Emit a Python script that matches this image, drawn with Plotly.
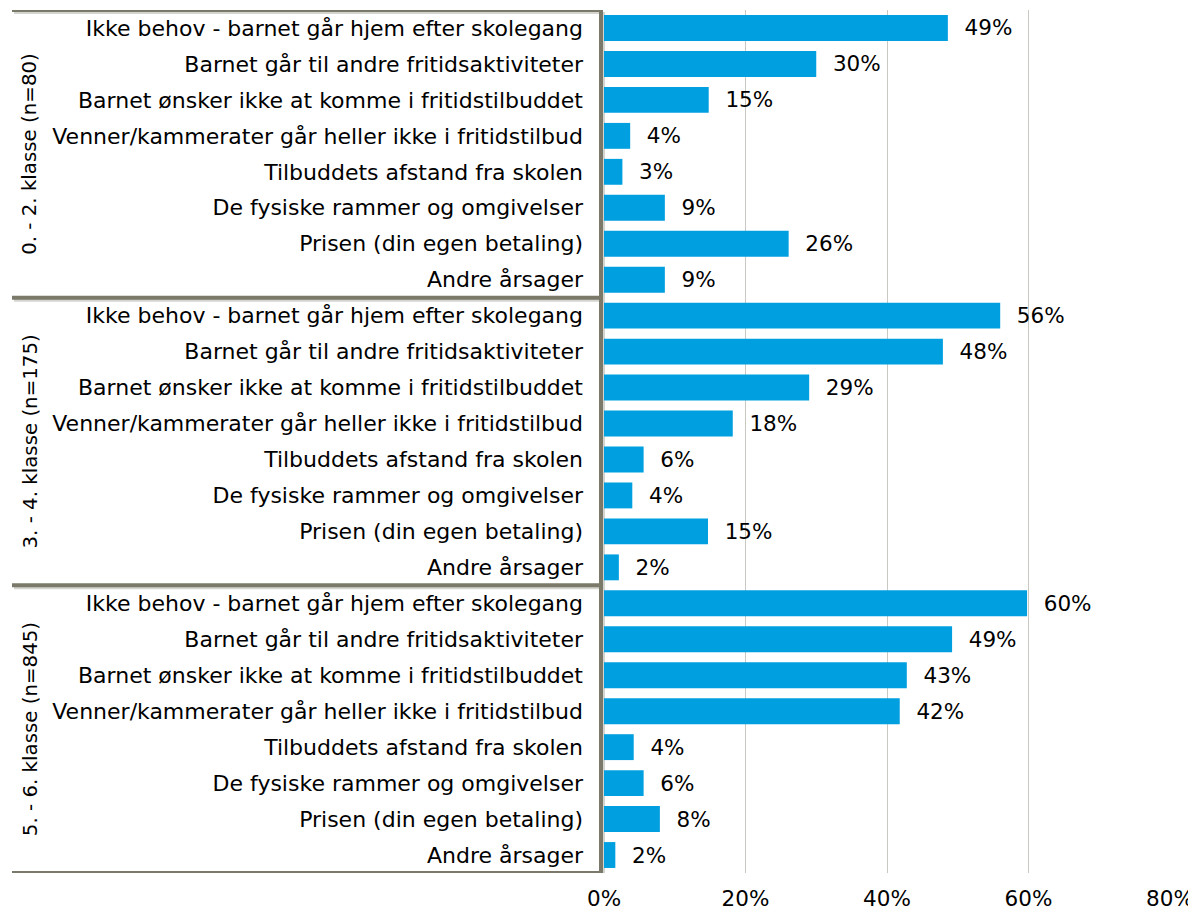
import plotly.graph_objects as go

groups = ["0. - 2. klasse (n=80)", "3. - 4. klasse (n=175)", "5. - 6. klasse (n=845)"]
categories = [
    "Ikke behov - barnet går hjem efter skolegang",
    "Barnet går til andre fritidsaktiviteter",
    "Barnet ønsker ikke at komme i fritidstilbuddet",
    "Venner/kammerater går heller ikke i fritidstilbud",
    "Tilbuddets afstand fra skolen",
    "De fysiske rammer og omgivelser",
    "Prisen (din egen betaling)",
    "Andre årsager",
]
values_g1 = [48.6, 30.0, 14.8, 3.7, 2.6, 8.6, 26.1, 8.6]
values_g2 = [56.0, 47.9, 29.0, 18.2, 5.6, 4.0, 14.7, 2.1]
values_g3 = [59.8, 49.2, 42.8, 41.8, 4.2, 5.6, 7.9, 1.6]
labels_g1 = ["49%", "30%", "15%", "4%", "3%", "9%", "26%", "9%"]
labels_g2 = ["56%", "48%", "29%", "18%", "6%", "4%", "15%", "2%"]
labels_g3 = ["60%", "49%", "43%", "42%", "4%", "6%", "8%", "2%"]
x_ticks = [0, 20, 40, 60, 80]
x_ticktext = ["0%", "20%", "40%", "60%", "80%"]

all_vals = values_g1 + values_g2 + values_g3
all_labels = labels_g1 + labels_g2 + labels_g3
n = len(categories)
ypos = list(range(len(all_vals)))
yticktext = categories * len(groups)

BAR = "#009fe0"
FRAME = "#7b7a6a"
SHADOW = "#d4d4d0"
FONT = "DejaVu Sans"

# figure geometry (page body has an 8px margin)
W, H = 1188, 903
L, R, T, B = 596, 26, 2, 38
plot_w = W - L - R
plot_h = H - T - B
row_px = plot_h / len(all_vals)
left_edge = 4  # where frame lines start (figure px)
px = lambda p: p / plot_w  # pixels -> paper units
py = lambda p: p / row_px  # pixels -> row units

fig = go.Figure()
fig.add_trace(go.Bar(
    x=all_vals, y=ypos, orientation="h",
    marker=dict(color=BAR, line=dict(width=0)),
    width=0.72,
    text=["  " + t for t in all_labels],
    textposition="outside",
    textfont=dict(family=FONT, size=21.5, color="#000000"),
    cliponaxis=False,
    hoverinfo="skip",
))

shapes = []
x_left = -px(L - left_edge)
x_vert = -px(3)
# shadow lines
for k in range(len(groups) + 1):
    yb = k * n - 0.5 + py(2)
    shapes.append(dict(type="line", xref="paper", yref="y",
                       x0=x_left + px(2), x1=x_vert + px(2), y0=yb, y1=yb,
                       line=dict(color=SHADOW, width=4), layer="below"))
shapes.append(dict(type="line", xref="paper", yref="y",
                   x0=x_vert + px(2), x1=x_vert + px(2), y0=-0.5 + py(2), y1=len(all_vals) - 0.5 + py(2),
                   line=dict(color=SHADOW, width=4), layer="below"))
# horizontal frame lines (top, separators, bottom)
for k in range(len(groups) + 1):
    yb = k * n - 0.5
    shapes.append(dict(type="line", xref="paper", yref="y",
                       x0=x_left, x1=x_vert, y0=yb, y1=yb,
                       line=dict(color=FRAME, width=4), layer="above"))
# vertical frame line
shapes.append(dict(type="line", xref="paper", yref="y",
                   x0=x_vert, x1=x_vert, y0=-0.5, y1=len(all_vals) - 0.5,
                   line=dict(color=FRAME, width=4), layer="above"))

annotations = []
for k, g in enumerate(groups):
    annotations.append(dict(
        text=g, xref="paper", yref="y", x=-px(L - 22), y=k * n + (n - 1) / 2,
        textangle=-90, showarrow=False, xanchor="center", yanchor="middle",
        font=dict(family=FONT, size=19.8, color="#000000"),
    ))

fig.update_layout(
    width=W, height=H,
    margin=dict(l=L, r=R, t=T, b=B, autoexpand=False),
    plot_bgcolor="white", paper_bgcolor="white",
    showlegend=False,
    shapes=shapes,
    annotations=annotations,
    font=dict(family=FONT, size=21, color="#000000"),
    xaxis=dict(
        range=[0, 80], tickvals=x_ticks, ticktext=x_ticktext,
        showgrid=True, gridcolor="#c9c9c1", gridwidth=1,
        zeroline=False, showline=False, ticks="",
        ticklabelstandoff=10,
        tickfont=dict(family=FONT, size=21.5, color="#000000"),
        fixedrange=True,
    ),
    yaxis=dict(
        tickvals=ypos, ticktext=yticktext,
        range=[len(all_vals) - 0.5, -0.5],
        showgrid=False, zeroline=False, showline=False, ticks="",
        ticklabelstandoff=20,
        tickfont=dict(family=FONT, size=22, color="#000000"),
        fixedrange=True,
    ),
)

fig.write_html("out.html")
